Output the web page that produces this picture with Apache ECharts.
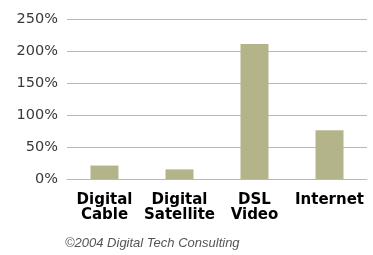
<!DOCTYPE html>
<html>
<head>
<meta charset="utf-8">
<script src="https://cdn.jsdelivr.net/npm/echarts@6/dist/echarts.min.js"></script>
<style>
  html, body { margin: 0; padding: 0; background: #fff; }
  #chart { width: 373px; height: 255px; }
</style>
</head>
<body>
<div id="chart"></div>
<script>
const categories = ['Digital\nCable', 'Digital\nSatellite', 'DSL\nVideo', 'Internet'];
const growth = [21, 15, 211, 76];
const yTicks = [0, 50, 100, 150, 200, 250];
const source = '©2004 Digital Tech Consulting';

const chart = echarts.init(document.getElementById('chart'));

chart.setOption({
  animation: false,
  grid: { left: 67, right: 6, top: 19, bottom: 76 },
  xAxis: {
    type: 'category',
    data: categories,
    axisLine: { lineStyle: { color: '#b8b8b8', width: 1 } },
    axisTick: { show: false },
    axisLabel: {
      margin: 14,
      fontFamily: 'DejaVu Sans',
      fontWeight: 'bold',
      fontSize: 15,
      lineHeight: 15,
      color: '#000',
      interval: 0
    }
  },
  yAxis: {
    type: 'value',
    min: yTicks[0],
    max: yTicks[yTicks.length - 1],
    interval: 50,
    axisLine: { show: false },
    axisTick: { show: false },
    splitLine: { lineStyle: { color: '#b8b8b8', width: 1 } },
    axisLabel: {
      margin: 9,
      fontFamily: 'DejaVu Sans',
      fontSize: 14.5,
      color: '#3a3a3a',
      formatter: '{value}%'
    }
  },
  series: [{
    type: 'bar',
    data: growth,
    barWidth: 28,
    itemStyle: { color: '#b3b48a' }
  }],
  graphic: [{
    type: 'text',
    left: 65,
    top: 237,
    style: {
      text: source,
      fontFamily: 'Liberation Sans',
      fontStyle: 'italic',
      fontSize: 13,
      fill: '#555'
    }
  }]
});
</script>
</body>
</html>
